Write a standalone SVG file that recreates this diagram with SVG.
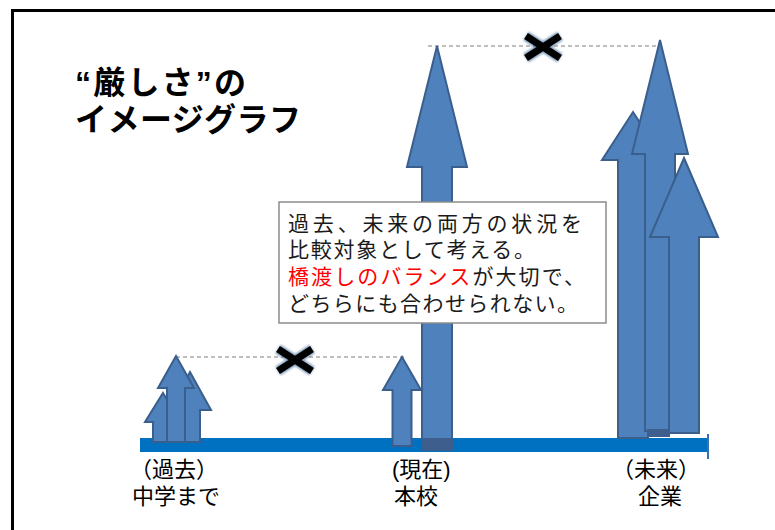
<svg xmlns="http://www.w3.org/2000/svg" width="775" height="530" viewBox="0 0 775 530">
<defs>
<style>
.arr{fill:#4F81BD;stroke:#3A5F8C;stroke-width:2;stroke-linejoin:miter}
.dash{stroke:#7F7F7F;stroke-width:1;stroke-dasharray:4 3;fill:none}
.xg{stroke:#2E5C8E;stroke-width:10;fill:none;opacity:0.6;filter:url(#blur)}
.xk{stroke:#000;stroke-width:7;fill:none}
.lbl{font-family:"Liberation Sans","Noto Sans CJK JP",sans-serif;font-size:22px;fill:#000}
.ttl{font-family:"Liberation Sans","Noto Sans CJK JP",sans-serif;font-size:32px;font-weight:bold;fill:#000}
.box{font-family:"Noto Sans CJK JP",sans-serif;font-size:21px;fill:#1a1a1a}
.red{fill:#FF0000}
</style>
<filter id="blur" x="-30%" y="-30%" width="160%" height="160%"><feGaussianBlur stdDeviation="1.2"/></filter>
</defs>
<rect width="775" height="530" fill="#fff"/>
<g id="frame" stroke="#000" stroke-width="3" fill="none">
<path d="M12.5,530 L12.5,10.5 L775,10.5"/>
</g>
<g id="title">
<text class="ttl" x="75" y="94" textLength="171" lengthAdjust="spacing">“厳しさ”の</text>
<text class="ttl" x="75" y="131" textLength="226" lengthAdjust="spacing">イメージグラフ</text>
</g>
<g id="axis">
<rect x="140" y="438" width="568" height="14" fill="#0070C0"/>
<line x1="708" y1="434" x2="708" y2="459" stroke="#3A6FB0" stroke-width="2"/>
</g>
<g id="connectors">
<line class="dash" x1="176" y1="357" x2="405" y2="357"/>
<line class="dash" x1="428" y1="46" x2="660" y2="46"/>
</g>
<g id="past-arrows">
<path class="arr" d="M190,372 L211,410 L200,410 L200,442 L180,442 L180,410 L169,410 Z"/>
<path class="arr" d="M163,393 L181,422 L173,422 L173,442 L153,442 L153,422 L145,422 Z"/>
<path class="arr" d="M176,356 L194,388 L185,388 L185,442 L167,442 L167,388 L158,388 Z"/>
</g>
<g id="present-arrows">
<path class="arr" d="M402,357 L421,390 L411.5,390 L411.5,446 L392.5,446 L392.5,390 L383,390 Z"/>
<path class="arr" d="M437,46 L467,167 L452,167 L452,450 L422,450 L422,167 L407,167 Z"/>
<rect x="423" y="438" width="28" height="12" fill="#3E5F8E"/>
</g>
<g id="future-arrows">
<path class="arr" d="M633,112 L664,160 L648,160 L648,438 L618,438 L618,160 L602,160 Z"/>
<path class="arr" d="M660,40 L688,154 L675,154 L675,431 L645,431 L645,154 L632,154 Z"/>
<rect x="647" y="429" width="23" height="8" fill="#3E5F8E"/>
<path class="arr" d="M684,158 L718,237 L699,237 L699,433 L669,433 L669,237 L650,237 Z"/>
</g>
<g id="x-past">
<path class="xg" d="M278,349 L312,371 M278,371 L312,349"/>
<path class="xk" d="M278,349 L312,371 M278,371 L312,349"/>
</g>
<g id="x-future">
<path class="xg" d="M526,36 L560,58 M526,58 L560,36"/>
<path class="xk" d="M526,36 L560,58 M526,58 L560,36"/>
</g>
<g id="note">
<rect x="279" y="202" width="327" height="121" fill="#fff" stroke="#8C8C8C" stroke-width="1.5"/>
<text class="box" x="288" y="231" textLength="294" lengthAdjust="spacing">過去、未来の両方の状況を</text>
<text class="box" x="288" y="257" textLength="247" lengthAdjust="spacing">比較対象として考える。</text>
<text class="box" x="288" y="284" textLength="297" lengthAdjust="spacing"><tspan class="red">橋渡しのバランス</tspan>が大切で、</text>
<text class="box" x="288" y="311" textLength="290" lengthAdjust="spacing">どちらにも合わせられない。</text>
</g>
<g id="label-past">
<text class="lbl" x="130" y="477">（過去）</text>
<text class="lbl" x="132" y="504">中学まで</text>
</g>
<g id="label-present">
<text class="lbl" x="392" y="477">(現在)</text>
<text class="lbl" x="394" y="504">本校</text>
</g>
<g id="label-future">
<text class="lbl" x="612" y="477">（未来）</text>
<text class="lbl" x="638" y="504">企業</text>
</g>
</svg>
